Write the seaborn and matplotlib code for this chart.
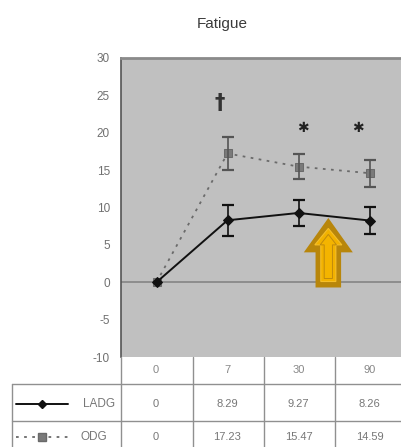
import matplotlib
matplotlib.use("Agg")
import matplotlib.pyplot as plt
import seaborn as sns
import pandas as pd
import numpy as np
from matplotlib.lines import Line2D
from matplotlib.patches import Polygon

# --- data -------------------------------------------------------------
days = ["0", "7", "30", "90"]
ladg_mean = [0, 8.29, 9.27, 8.26]
ladg_err = [0, 2.1, 1.8, 1.8]
odg_mean = [0, 17.23, 15.47, 14.59]
odg_err = [0, 2.2, 1.7, 1.8]
ladg_labels = ["0", "8.29", "9.27", "8.26"]
odg_labels = ["0", "17.23", "15.47", "14.59"]
groups = ["LADG", "ODG"]
yticks = [30, 25, 20, 15, 10, 5, 0, -5, -10]

sns.set_style("white")
plt.rcParams["font.family"] = ["Liberation Sans Narrow", "Liberation Sans", "DejaVu Sans"]

W, H = 402, 447
fig = plt.figure(figsize=(W / 100, H / 100), dpi=100)


def fx(px):
    return px / W


def fy(py):
    return 1 - py / H


# main plotting area (pixel layout converted to figure fractions)
ax_l, ax_t, ax_r, ax_b = 121, 58, 405, 357
ax = fig.add_axes([fx(ax_l), fy(ax_b), fx(ax_r - ax_l), (ax_b - ax_t) / H])
ax.set_facecolor("#c0c0c0")

df = pd.DataFrame({
    "pos": list(range(len(days))) * 2,
    "score": ladg_mean + odg_mean,
    "group": [groups[0]] * len(days) + [groups[1]] * len(days),
})

ax.axhline(0, color="#858585", lw=1.2, zorder=1)

sns.lineplot(data=df[df.group == "LADG"], x="pos", y="score", ax=ax,
             color="#111111", lw=1.4, marker="D", markersize=5,
             markeredgecolor="#111111", legend=False, zorder=4)
sns.lineplot(data=df[df.group == "ODG"], x="pos", y="score", ax=ax,
             color="#6a6a6a", lw=1.3, linestyle=(0, (1.5, 3)), marker="s",
             markersize=6, markerfacecolor="#7a7a7a", markeredgecolor="#6a6a6a",
             legend=False, zorder=3)

x = np.arange(len(days))
ax.errorbar(x[1:], ladg_mean[1:], yerr=ladg_err[1:], fmt="none",
            ecolor="#111111", elinewidth=1.2, capsize=4, capthick=1.6, zorder=4)
ax.errorbar(x[1:], odg_mean[1:], yerr=odg_err[1:], fmt="none",
            ecolor="#555555", elinewidth=1.2, capsize=4, capthick=1.6, zorder=3)

# significance markers
ax.text(0.89, 24.0, "†", ha="center", va="center", fontsize=15,
        fontweight="bold", color="#333333", family="DejaVu Sans")
for xs in (2.06, 2.83):
    ax.text(xs, 20.7, "✱", ha="center", va="center", fontsize=10,
            color="#222222", family="DejaVu Sans")

# highlight arrow
tip_x = 2.42


def arrow_poly(cx, ty, hb, bt, hwid, swid):
    return [(cx, ty), (cx + hwid, hb), (cx + swid, hb), (cx + swid, bt),
            (cx - swid, bt), (cx - swid, hb), (cx - hwid, hb)]


ax.add_patch(Polygon(arrow_poly(tip_x, 8.6, 4.0, -0.7, 0.345, 0.18),
                     closed=True, facecolor="#b8860b", edgecolor="none", zorder=5))
ax.add_patch(Polygon(arrow_poly(tip_x, 7.2, 5.0, 0.1, 0.19, 0.106),
                     closed=True, facecolor="#f2b200", edgecolor="#f5bf2a", lw=0.8, zorder=6))
ax.add_patch(Polygon(arrow_poly(tip_x, 6.4, 5.0, 0.5, 0.115, 0.058),
                     closed=True, facecolor="#f4b400", edgecolor="#c08a0c", lw=0.7, zorder=7))

ax.set_xlim(-0.5, 3.5)
ax.set_ylim(-10, 30)
ax.set_yticks(yticks)
ax.set_yticklabels([str(t) for t in yticks], color="#707070", fontsize=8.5)
ax.set_xticks([])
ax.set_xlabel("")
ax.set_ylabel("")
ax.tick_params(axis="y", length=2, color="#909090", pad=6)
for s in ["right", "bottom"]:
    ax.spines[s].set_visible(False)
ax.spines["left"].set_color("#555555")
ax.spines["left"].set_linewidth(1.2)
ax.spines["top"].set_color("#8a8a8a")
ax.spines["top"].set_linewidth(2)

fig.text(fx(222), fy(24), "Fatigue", ha="center", va="center",
         fontsize=11, color="#3a3a3a")

# data table below the plot
col_edges = [121, 193, 264, 335, 406]
row_lines = [384, 421]
tcol = "#777777"


def hline(y, x0, x1, c="#909090", lw=1.0):
    fig.add_artist(Line2D([fx(x0), fx(x1)], [fy(y), fy(y)], color=c, lw=lw))


def vline(xp, y0, y1, c="#909090", lw=1.0):
    fig.add_artist(Line2D([fx(xp), fx(xp)], [fy(y0), fy(y1)], color=c, lw=lw))


for xe in col_edges[:-1]:
    vline(xe, ax_b, H + 5)
vline(12, row_lines[0], H + 5)
for yl in row_lines:
    hline(yl, 12, W + 5)

centers = [(col_edges[i] + col_edges[i + 1]) / 2 - 1 for i in range(4)]
for cx, lab in zip(centers, days):
    fig.text(fx(cx), fy(370), lab, ha="center", va="center", fontsize=8, color="#888888")
for cx, lab in zip(centers, ladg_labels):
    fig.text(fx(cx), fy(404), lab, ha="center", va="center", fontsize=8, color=tcol)
for cx, lab in zip(centers, odg_labels):
    fig.text(fx(cx), fy(437), lab, ha="center", va="center", fontsize=8, color=tcol)

# legend keys in the first column
fig.add_artist(Line2D([fx(16), fx(42), fx(68)], [fy(404)] * 3, color="#111111", lw=1.4,
                      marker="D", markersize=4.5, markevery=[1],
                      markerfacecolor="#111111"))
fig.add_artist(Line2D([fx(16), fx(42), fx(68)], [fy(437)] * 3, color="#6a6a6a", lw=1.3,
                      linestyle=(0, (1.5, 3)), marker="s", markersize=5.5, markevery=[1],
                      markerfacecolor="#7a7a7a", markeredgecolor="#6a6a6a"))
fig.text(fx(115), fy(404), "LADG", ha="right", va="center", fontsize=8.5, color=tcol)
fig.text(fx(107), fy(437), "ODG", ha="right", va="center", fontsize=8.5, color=tcol)

fig.savefig("out.png", dpi=100)
